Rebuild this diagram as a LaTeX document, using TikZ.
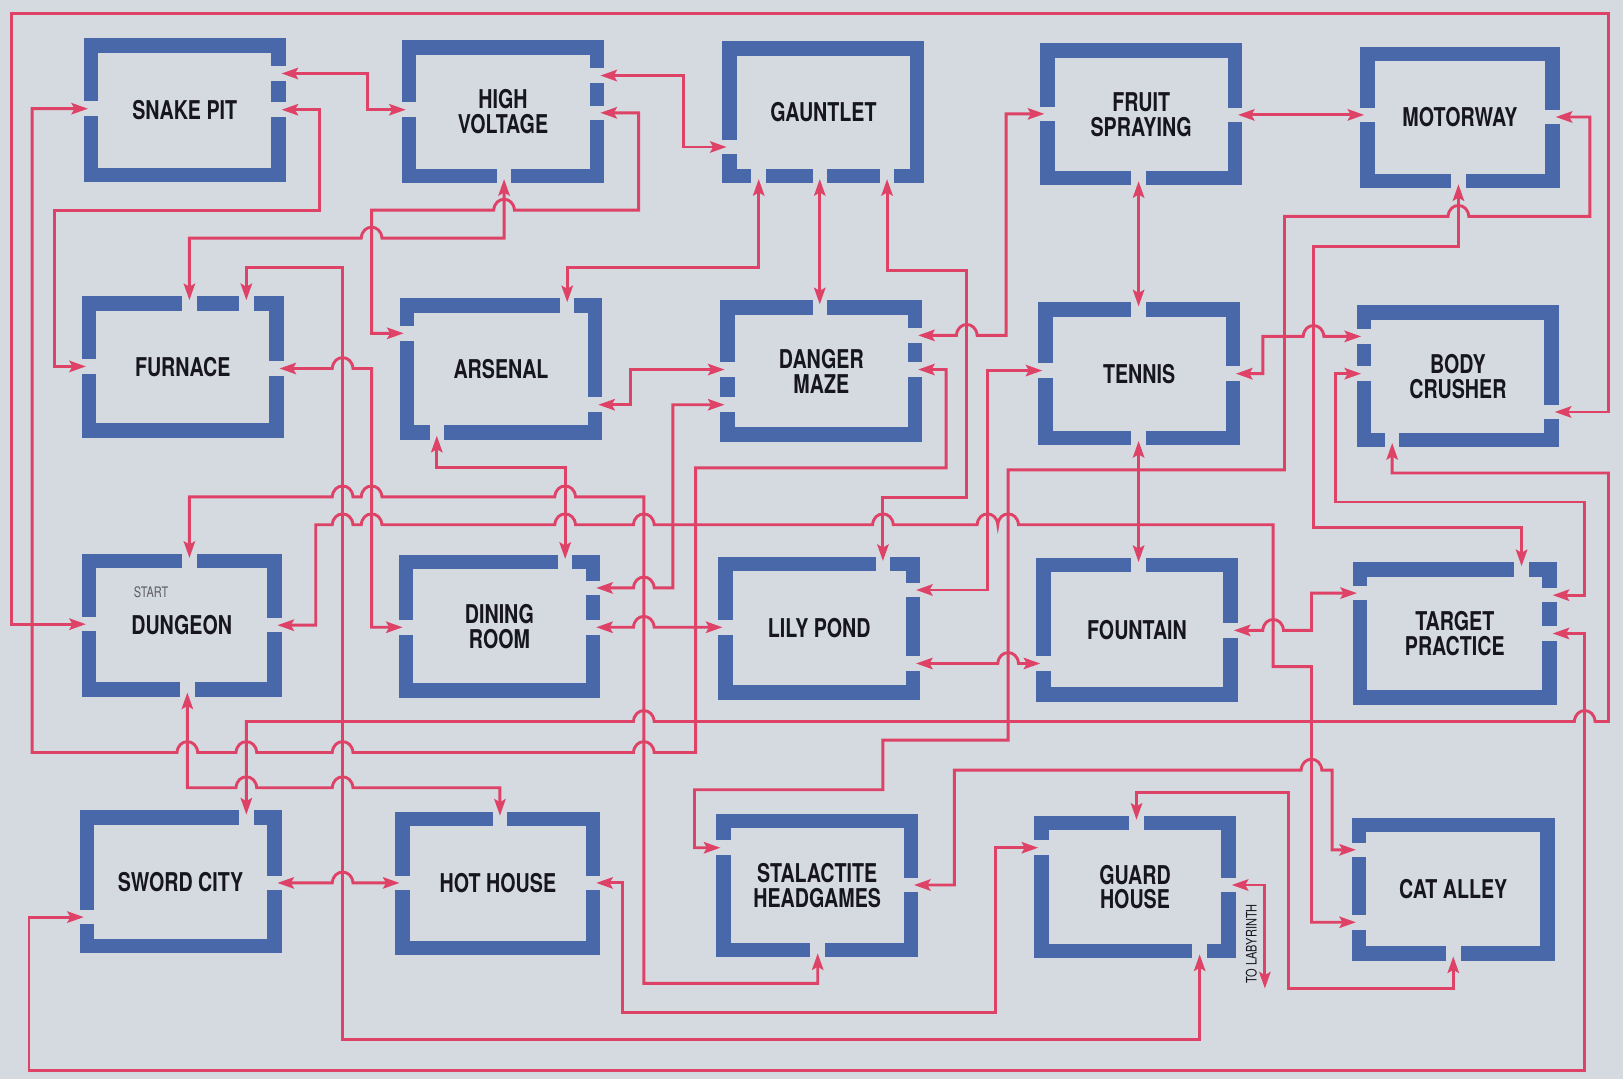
\documentclass[tikz,border=0pt]{standalone}
\usepackage{fontspec}
\usetikzlibrary{arrows.meta}
\newfontfamily\roomfont{TeX Gyre Heros}[FakeStretch=0.76]
\definecolor{bgc}{RGB}{213,218,225}
\definecolor{wallblue}{RGB}{72,104,170}
\definecolor{linkred}{RGB}{222,66,102}
\definecolor{textc}{RGB}{22,22,28}
\tikzset{
  wall/.style={draw=wallblue, line width=14pt},
  link/.style={draw=linkred, line width=2.8pt, <->, >={Stealth[length=16pt,width=11pt,inset=3pt]}},
  roomtext/.style={font=\roomfont\bfseries\fontsize{25}{24}\selectfont, align=center, text=textc, inner sep=0pt},
  smalltext/.style={font=\roomfont\fontsize{14}{14}\selectfont, text=textc, inner sep=0pt},
  bumpr/.style 2 args={insert path={-- ({#1-10},#2) .. controls ({#1-9},{#2-14}) and ({#1+9},{#2-14}) .. ({#1+10},#2)}},
  bumpl/.style 2 args={insert path={-- ({#1+10},#2) .. controls ({#1+9},{#2-14}) and ({#1-9},{#2-14}) .. ({#1-10},#2)}},
}
\newcommand\mkroom[6]{%
  \draw[wall] ({#2+7},{#3+7}) rectangle ({#4-7},{#5-7});
  \node[roomtext] (#1) at ({(#2+#4)/2},{(#3+#5)/2}) {#6};}
\newcommand\doorL[3]{\fill[bgc] ({#2-1},{#3-7}) rectangle ({#2+15},{#3+7}); \coordinate (#1) at ({#2+4},#3);}
\newcommand\doorR[3]{\fill[bgc] ({#2-15},{#3-7}) rectangle ({#2+1},{#3+7}); \coordinate (#1) at ({#2-4},#3);}
\newcommand\doorT[3]{\fill[bgc] ({#2-7},{#3-1}) rectangle ({#2+7},{#3+15}); \coordinate (#1) at (#2,{#3+4});}
\newcommand\doorB[3]{\fill[bgc] ({#2-7},{#3-15}) rectangle ({#2+7},{#3+1}); \coordinate (#1) at (#2,{#3-4});}
\begin{document}
\begin{tikzpicture}[x=1pt,y=-1pt]
\useasboundingbox (0,0) rectangle (1568,1042);
\fill[bgc] (0,0) rectangle (1568,1042);
% rooms
\mkroom{sp}{81}{37}{276}{176}{SNAKE PIT}
\mkroom{hv}{388}{39}{584}{177}{HIGH\\VOLTAGE}
\mkroom{ga}{698}{40}{893}{177}{GAUNTLET}
\mkroom{fr}{1005}{42}{1200}{179}{FRUIT\\SPRAYING}
\mkroom{mo}{1314}{45}{1507}{182}{MOTORWAY}
\mkroom{fu}{79}{286}{274}{423}{FURNACE}
\mkroom{ar}{386}{288}{582}{425}{ARSENAL}
\mkroom{dm}{696}{290}{891}{427}{DANGER\\MAZE}
\mkroom{te}{1003}{292}{1198}{430}{TENNIS}
\mkroom{bc}{1311}{295}{1506}{432}{BODY\\CRUSHER}
\mkroom{du}{79}{535}{272}{673}{DUNGEON}
\mkroom{di}{385}{536}{580}{674}{DINING\\ROOM}
\mkroom{lp}{694}{538}{889}{676}{LILY POND}
\mkroom{fo}{1001}{539}{1196}{678}{FOUNTAIN}
\mkroom{tp}{1307}{543}{1504}{681}{TARGET\\PRACTICE}
\mkroom{sc}{77}{783}{272}{921}{SWORD CITY}
\mkroom{hh}{382}{784}{580}{923}{HOT HOUSE}
\mkroom{st}{692}{786}{887}{925}{STALACTITE\\HEADGAMES}
\mkroom{gh}{999}{788}{1194}{926}{GUARD\\HOUSE}
\mkroom{ca}{1306}{790}{1502}{928}{CAT ALLEY}
% doors
\doorL{spL}{81}{105} \doorR{spRa}{276}{71} \doorR{spRb}{276}{106}
\doorL{hvL}{388}{106} \doorR{hvRa}{584}{73} \doorR{hvRb}{584}{109} \doorB{hvB}{487}{177}
\doorL{gaL}{698}{142} \doorB{gaBa}{733}{177} \doorB{gaBb}{792}{177} \doorB{gaBc}{857}{177}
\doorL{frL}{1005}{110} \doorR{frR}{1200}{111} \doorB{frB}{1100}{179}
\doorL{moL}{1314}{111} \doorR{moR}{1507}{113} \doorB{moB}{1409}{182}
\doorT{fuTa}{183}{286} \doorT{fuTb}{238}{286} \doorL{fuL}{79}{354} \doorR{fuR}{274}{356}
\doorT{arT}{548}{288} \doorL{arL}{386}{322} \doorR{arR}{582}{391} \doorB{arB}{422}{425}
\doorT{dmT}{792}{290} \doorL{dmLa}{696}{357} \doorL{dmLb}{696}{391} \doorR{dmRa}{891}{324} \doorR{dmRb}{891}{357}
\doorT{teT}{1100}{292} \doorL{teL}{1003}{358} \doorR{teR}{1198}{361} \doorB{teB}{1100}{430}
\doorL{bcLa}{1311}{325} \doorL{bcLb}{1311}{361} \doorR{bcR}{1506}{398} \doorB{bcB}{1345}{432}
\doorT{duT}{183}{535} \doorL{duL}{79}{603} \doorR{duR}{272}{604} \doorB{duB}{181}{673}
\doorT{diT}{546}{536} \doorL{diL}{385}{606} \doorR{diRa}{580}{568} \doorR{diRb}{580}{606}
\doorL{lpL}{694}{606} \doorT{lpT}{853}{538} \doorR{lpRa}{889}{570} \doorR{lpRb}{889}{641}
\doorT{foT}{1100}{539} \doorL{foL}{1001}{641} \doorR{foR}{1196}{609}
\doorT{tpT}{1470}{543} \doorL{tpL}{1307}{573} \doorR{tpRa}{1504}{575} \doorR{tpRb}{1504}{612}
\doorT{scT}{238}{783} \doorR{scR}{272}{853} \doorL{scL}{77}{886}
\doorT{hhT}{483}{784} \doorL{hhL}{382}{853} \doorR{hhR}{580}{853}
\doorL{stL}{692}{819} \doorR{stR}{887}{855} \doorB{stB}{790}{925}
\doorT{ghT}{1098}{788} \doorL{ghL}{999}{819} \doorR{ghR}{1194}{855} \doorB{ghB}{1159}{926}
\doorL{caLa}{1306}{821} \doorL{caLb}{1306}{891} \doorB{caB}{1404}{928}
\coordinate (lab) at (1222,955);
% connectors
\draw[link] (spRa) -- (355,71) -- (355,106) -- (hvL);
\draw[link] (spRb) -- (309,106) -- (309,203) -- (53,203) -- (53,354) -- (fuL);
\draw[link] (spL) -- (31,105) -- (31,727) [bumpr={181}{727}] [bumpr={238}{727}] [bumpr={331}{727}] [bumpr={622}{727}] -- (672,727) -- (672,452) -- (914,452) -- (914,357) -- (dmRb);
\draw[link] (hvRa) -- (660,73) -- (660,142) -- (gaL);
\draw[link] (hvRb) -- (617,109) -- (617,203) [bumpl={487}{203}] -- (359,203) -- (359,322) -- (arL);
\draw[link] (hvB) -- (487,230) [bumpl={359}{230}] -- (183,230) -- (fuTa);
\draw[link] (gaBa) -- (733,258) -- (548,258) -- (arT);
\draw[link] (fuTb) -- (238,258) -- (331,258) -- (331,1004) -- (1159,1004) -- (ghB);
\draw[link] (gaBb) -- (dmT);
\draw[link] (gaBc) -- (857,261) -- (934,261) -- (934,481) -- (853,481) -- (lpT);
\draw[link] (frR) -- (moL);
\draw[link] (dmRa) [bumpr={934}{324}] -- (972,324) -- (972,110) -- (frL);
\draw[link] (frB) -- (teT);
\draw[link] (moR) -- (1536,113) -- (1536,209) [bumpl={1409}{209}] -- (1241,209) -- (1241,454) -- (974,454) -- (974,715) -- (853,715) -- (853,763) -- (671,763) -- (671,819) -- (stL);
\draw[link] (moB) -- (1409,238) -- (1269,238) -- (1269,510) -- (1470,510) -- (tpT);
\draw[link] (fuR) [bumpr={331}{356}] -- (359,356) -- (359,606) -- (diL);
\draw[link] (arR) -- (609,391) -- (609,357) -- (dmLa);
\draw[link] (arB) -- (422,452) -- (546,452) -- (diT);
\draw[link] (dmLb) -- (650,391) -- (650,568) [bumpl={622}{568}] -- (diRa);
\draw[link] (teL) -- (954,358) -- (954,570) -- (lpRa);
\draw[link] (teR) -- (1220,361) -- (1220,325) [bumpr={1269}{325}] -- (bcLa);
\draw[link] (teB) -- (foT);
\draw[link] (bcLb) -- (1290,361) -- (1290,485) -- (1531,485) -- (1531,575) -- (tpRa);
\draw[link] (bcR) -- (1554,398) -- (1554,13) -- (11,13) -- (11,603) -- (duL);
\draw[link] (bcB) -- (1345,457) -- (1554,457) -- (1554,697) [bumpl={1531}{697}] [bumpl={622}{697}] -- (238,697) -- (scT);
\draw[link] (duT) -- (183,480) [bumpr={331}{480}] [bumpr={359}{480}] [bumpr={546}{480}] -- (622,480) -- (622,950) -- (790,950) -- (stB);
\draw[link] (duR) -- (305,604) -- (305,507) [bumpr={331}{507}] [bumpr={359}{507}] [bumpr={546}{507}] [bumpr={622}{507}] [bumpr={853}{507}] [bumpr={954}{507}] [bumpr={974}{507}] -- (1230,507) -- (1230,644) -- (1267,644) -- (1267,891) -- (caLb);
\draw[link] (duB) -- (181,761) [bumpr={238}{761}] [bumpr={331}{761}] -- (483,761) -- (hhT);
\draw[link] (diRb) [bumpr={622}{606}] -- (lpL);
\draw[link] (lpRb) [bumpr={974}{641}] -- (foL);
\draw[link] (foR) [bumpr={1230}{609}] -- (1267,609) -- (1267,573) -- (tpL);
\draw[link] (tpRb) -- (1531,612) -- (1531,1034) -- (28,1034) -- (28,886) -- (scL);
\draw[link] (scR) [bumpr={331}{853}] -- (hhL);
\draw[link] (hhR) -- (601,853) -- (601,978) -- (962,978) -- (962,819) -- (ghL);
\draw[link] (stR) -- (922,855) -- (922,744) [bumpr={1267}{744}] -- (1287,744) -- (1287,821) -- (caLa);
\draw[link] (ghT) -- (1098,766) -- (1245,766) -- (1245,955) -- (1404,955) -- (caB);
\draw[link] (ghR) -- (1222,855) -- (lab);
% small texts
\node[smalltext, text=textc!70] (start) at (146,572) {START};
\node[smalltext, rotate=90] (labtxt) at (1209,912) {TO LABYRINTH};
\end{tikzpicture}
\end{document}
